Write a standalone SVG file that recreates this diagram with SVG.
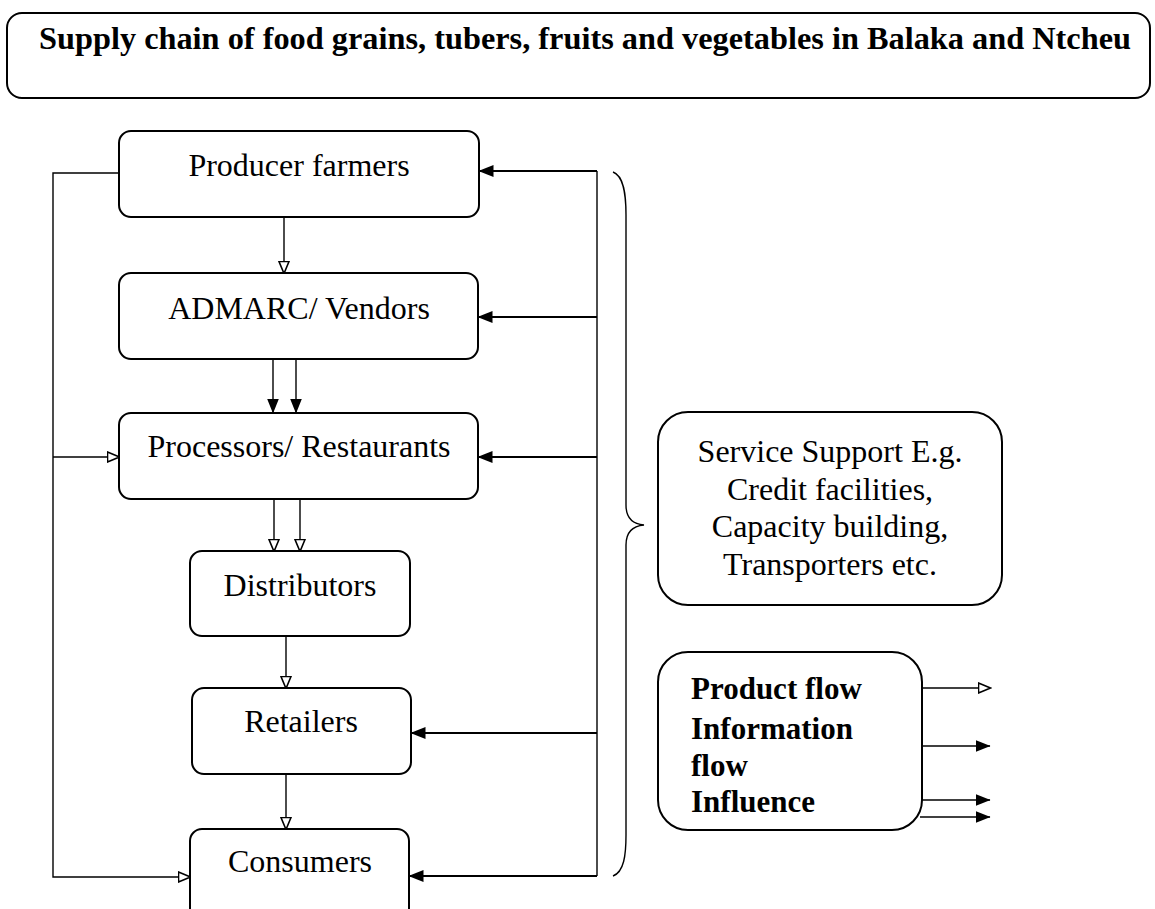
<svg xmlns="http://www.w3.org/2000/svg" width="1155" height="909" viewBox="0 0 1155 909">
<style>
.box{fill:#fff;stroke:#000;stroke-width:2}
.lbl{font-family:"Liberation Serif","Times New Roman",serif;font-size:32px;fill:#000;text-anchor:middle}
.leg{font-family:"Liberation Serif","Times New Roman",serif;font-size:31px;font-weight:bold;fill:#000}
.thin{fill:none;stroke:#000;stroke-width:1.4}
.thick{fill:none;stroke:#000;stroke-width:2}
.op{marker-end:url(#open)}
.fl{marker-end:url(#filled)}
</style>
<defs>
<marker id="filled" markerUnits="userSpaceOnUse" viewBox="0 0 15 12" refX="14.5" refY="6" markerWidth="15" markerHeight="12" orient="auto">
<path d="M0,0 L15,6 L0,12 z" fill="#000"/>
</marker>
<marker id="open" markerUnits="userSpaceOnUse" viewBox="-1 -1 14 12" refX="11.5" refY="5" markerWidth="14" markerHeight="12" orient="auto">
<path d="M0,0 L12,5 L0,10 z" fill="#fff" stroke="#000" stroke-width="1.6"/>
</marker>
</defs>
<g id="title">
<rect class="box" x="7" y="13" width="1143" height="85" rx="15"/>
<text x="39" y="49" font-family="'Liberation Serif','Times New Roman',serif" font-size="32" font-weight="bold" textLength="1092" lengthAdjust="spacingAndGlyphs">Supply chain of food grains, tubers, fruits and vegetables in Balaka and Ntcheu</text>
</g>
<g id="connectors">
<path class="thin op" d="M119,173 H53 V877 H190"/>
<path class="thin op" d="M53,457 H119"/>
<path class="thin op" d="M284,217 V273"/>
<path class="thin fl" d="M273,359 V413"/>
<path class="thin fl" d="M296,359 V413"/>
<path class="thin op" d="M274,499 V551"/>
<path class="thin op" d="M300,499 V551"/>
<path class="thin op" d="M286,636 V688"/>
<path class="thin op" d="M286,774 V829"/>
<path class="thin" d="M597,171 V876"/>
<path class="thick fl" d="M597,171 H479"/>
<path class="thick fl" d="M597,317 H478"/>
<path class="thick fl" d="M597,457 H478"/>
<path class="thick fl" d="M597,733 H411"/>
<path class="thick fl" d="M597,876 H409"/>
<path class="thin op" d="M922,688 H990"/>
<path class="thin fl" d="M922,746 H990"/>
<path class="thin fl" d="M922,800 H990"/>
<path class="thin fl" d="M920,817 H990"/>
</g>
<g id="brace">
<path class="thin" d="M613,172 C624,176 626,195 626,215 V505 C626,518 632,524 644,525 C632,526 626,532 626,545 V835 C626,855 624,872 613,876"/>
</g>
<g id="producer">
<rect class="box" x="119" y="131" width="360" height="86" rx="12"/>
<text class="lbl" x="299" y="176">Producer farmers</text>
</g>
<g id="admarc">
<rect class="box" x="119" y="273" width="359" height="86" rx="12"/>
<text class="lbl" x="299" y="319">ADMARC/ Vendors</text>
</g>
<g id="processors">
<rect class="box" x="119" y="413" width="359" height="86" rx="12"/>
<text class="lbl" x="299" y="457">Processors/ Restaurants</text>
</g>
<g id="distributors">
<rect class="box" x="190" y="551" width="220" height="85" rx="12"/>
<text class="lbl" x="300" y="596">Distributors</text>
</g>
<g id="retailers">
<rect class="box" x="192" y="688" width="219" height="86" rx="12"/>
<text class="lbl" x="301" y="732">Retailers</text>
</g>
<g id="consumers">
<rect class="box" x="190" y="829" width="219" height="95" rx="12"/>
<text class="lbl" x="300" y="872">Consumers</text>
</g>
<g id="service">
<rect class="box" x="658" y="412" width="344" height="193" rx="30"/>
<text class="lbl" x="830" y="462">Service Support E.g.</text>
<text class="lbl" x="830" y="500">Credit facilities,</text>
<text class="lbl" x="830" y="537">Capacity building,</text>
<text class="lbl" x="830" y="575">Transporters etc.</text>
</g>
<g id="legend">
<rect class="box" x="658" y="652" width="264" height="178" rx="30"/>
<text class="leg" x="691" y="699">Product flow</text>
<text class="leg" x="691" y="739">Information</text>
<text class="leg" x="691" y="776">flow</text>
<text class="leg" x="691" y="812">Influence</text>
</g>
</svg>
